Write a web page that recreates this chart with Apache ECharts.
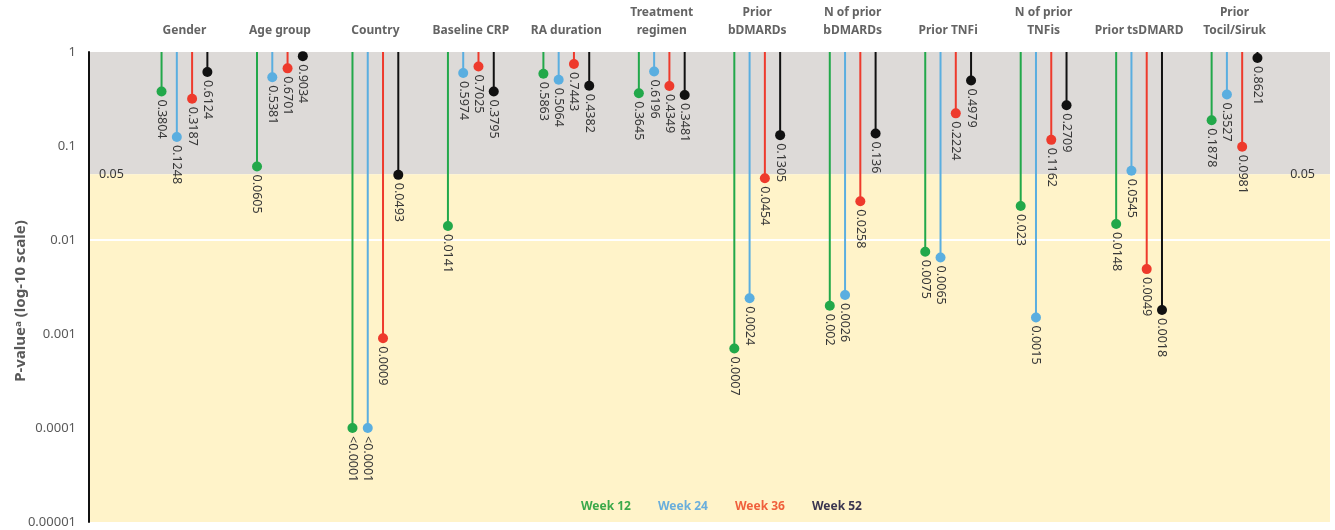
<!DOCTYPE html>
<html>
<head>
<meta charset="utf-8">
<script src="https://cdn.jsdelivr.net/npm/echarts@6/dist/echarts.min.js"></script>
<style>
  html, body { margin: 0; padding: 0; background: #ffffff; }
  #chart { width: 1335px; height: 530px; }
</style>
</head>
<body>
<div id="chart"></div>
<script>
// Subgroup categories (top axis)
const categories = [
  'Gender', 'Age group', 'Country', 'Baseline CRP', 'RA duration',
  'Treatment\nregimen', 'Prior\nbDMARDs', 'N of prior\nbDMARDs', 'Prior TNFi',
  'N of prior\nTNFis', 'Prior tsDMARD', 'Prior\nTocil/Siruk'
];

// P-values per visit (0.0001 stands for "<0.0001")
const week12 = [0.3804, 0.0605, 0.0001, 0.0141, 0.5863, 0.3645, 0.0007, 0.002, 0.0075, 0.023, 0.0148, 0.1878];
const week24 = [0.1248, 0.5381, 0.0001, 0.5974, 0.5064, 0.6196, 0.0024, 0.0026, 0.0065, 0.0015, 0.0545, 0.3527];
const week36 = [0.3187, 0.6701, 0.0009, 0.7025, 0.7443, 0.4349, 0.0454, 0.0258, 0.2224, 0.1162, 0.0049, 0.0981];
const week52 = [0.6124, 0.9034, 0.0493, 0.3795, 0.4382, 0.3481, 0.1305, 0.136, 0.4979, 0.2709, 0.0018, 0.8621];

// Log-axis tick labels, from 1e-5 up to 1
const yTickLabels = ['0.00001', '0.0001', '0.001', '0.01', '0.1', '1'];

const significance = 0.05;
const detectionLimit = 0.0001;

const weekNames = ['Week 12', 'Week 24', 'Week 36', 'Week 52'];
const weekColors = ['#22a84a', '#5aaee0', '#ee3a2c', '#111111'];
const legendColors = ['#3aa84a', '#6aaedc', '#f0603c', '#3a3550'];
const weekOffsets = [-0.24, -0.08, 0.08, 0.24];
const weekData = [week12, week24, week36, week52];

function pLabel(v) {
  return v <= detectionLimit ? '<' + String(detectionLimit) : String(v);
}

function lollipop(offset, color) {
  return function (params, api) {
    const x = api.value(0) + offset;
    const v = api.value(1);
    const top = api.coord([x, 1]);
    const end = api.coord([x, v]);
    return {
      type: 'group',
      children: [
        {
          type: 'line',
          shape: { x1: top[0], y1: top[1], x2: end[0], y2: end[1] },
          style: { stroke: color, lineWidth: 2 }
        },
        {
          type: 'circle',
          shape: { cx: end[0], cy: end[1], r: 5 },
          style: { fill: color }
        },
        {
          type: 'text',
          x: end[0],
          y: end[1] + 8,
          rotation: -Math.PI / 2,
          style: {
            text: pLabel(v),
            fill: '#383838',
            font: '12.5px "Noto Sans", sans-serif',
            align: 'left',
            verticalAlign: 'middle'
          }
        }
      ]
    };
  };
}

const series = [
  {
    // shaded bands
    type: 'line',
    data: [],
    z: 1,
    silent: true,
    markArea: {
      silent: true,
      data: [
        [{ yAxis: 1, itemStyle: { color: '#dddad8' } }, { yAxis: significance }],
        [{ yAxis: significance, itemStyle: { color: '#fff3c9' } }, { yAxis: 0.00001 }]
      ]
    }
  },
  {
    // white decade lines and the 0.05 threshold labels
    type: 'line',
    data: [],
    z: 2,
    silent: true,
    markLine: {
      silent: true,
      symbol: 'none',
      lineStyle: { color: '#ffffff', width: 2, type: 'solid' },
      label: { show: false },
      data: [
        { yAxis: 0.01 }, { yAxis: 0.001 }, { yAxis: 0.0001 },
        {
          yAxis: significance,
          lineStyle: { color: 'rgba(0,0,0,0)' },
          label: {
            show: true, position: 'insideStart', distance: 10,
            formatter: String(significance), color: '#383838',
            fontSize: 12.5, fontFamily: 'Noto Sans'
          }
        },
        {
          yAxis: significance,
          lineStyle: { color: 'rgba(0,0,0,0)' },
          label: {
            show: true, position: 'insideEnd', distance: 15,
            formatter: String(significance), color: '#383838',
            fontSize: 12.5, fontFamily: 'Noto Sans'
          }
        }
      ]
    }
  }
];

weekData.forEach(function (vals, k) {
  series.push({
    name: weekNames[k],
    type: 'custom',
    z: 5,
    itemStyle: { color: weekColors[k] },
    renderItem: lollipop(weekOffsets[k], weekColors[k]),
    encode: { x: 0, y: 1 },
    data: vals.map(function (v, i) { return [i, v]; })
  });
});

const chart = echarts.init(document.getElementById('chart'), null, { renderer: 'canvas' });
chart.setOption({
  animation: false,
  backgroundColor: '#ffffff',
  grid: { left: 89, right: 5, top: 52, bottom: 8, containLabel: false, outerBoundsMode: 'none' },
  legend: {
    left: 571,
    top: 496,
    itemWidth: 0,
    itemHeight: 0,
    itemGap: 22,
    selectedMode: false,
    textStyle: { fontFamily: 'Noto Sans', fontSize: 12, fontWeight: 'bold' },
    data: weekNames.map(function (n, k) {
      return { name: n, textStyle: { color: legendColors[k] } };
    })
  },
  xAxis: {
    type: 'value',
    position: 'top',
    min: -1,
    max: 12,
    interval: 1,
    axisLine: { show: false },
    axisTick: { show: false },
    splitLine: { show: false },
    axisLabel: {
      margin: 12,
      color: '#646464',
      fontFamily: 'Noto Sans',
      fontSize: 12,
      fontWeight: 'bold',
      lineHeight: 18,
      showMinLabel: true,
      showMaxLabel: true,
      formatter: function (v) { return categories[v] || ''; }
    }
  },
  yAxis: {
    type: 'log',
    logBase: 10,
    min: 0.00001,
    max: 1,
    interval: 1,
    z: 6,
    name: 'P-value\u1d43 (log-10 scale)',
    nameLocation: 'middle',
    nameRotate: 90,
    nameGap: 61,
    nameMoveOverlap: false,
    nameTextStyle: {
      color: '#595959', fontFamily: 'Noto Sans', fontSize: 15, fontWeight: 'bold',
      padding: [0, 28, 0, 0]
    },
    axisLine: { show: true, onZero: false, lineStyle: { color: '#111111', width: 2 } },
    axisTick: { show: false },
    splitLine: { show: false },
    axisLabel: {
      margin: 13,
      color: '#595959',
      fontFamily: 'Noto Sans',
      fontSize: 13,
      formatter: function (v) {
        return yTickLabels[Math.round(Math.log10(v)) + 5] || '';
      }
    }
  },
  series: series
});
</script>
</body>
</html>
